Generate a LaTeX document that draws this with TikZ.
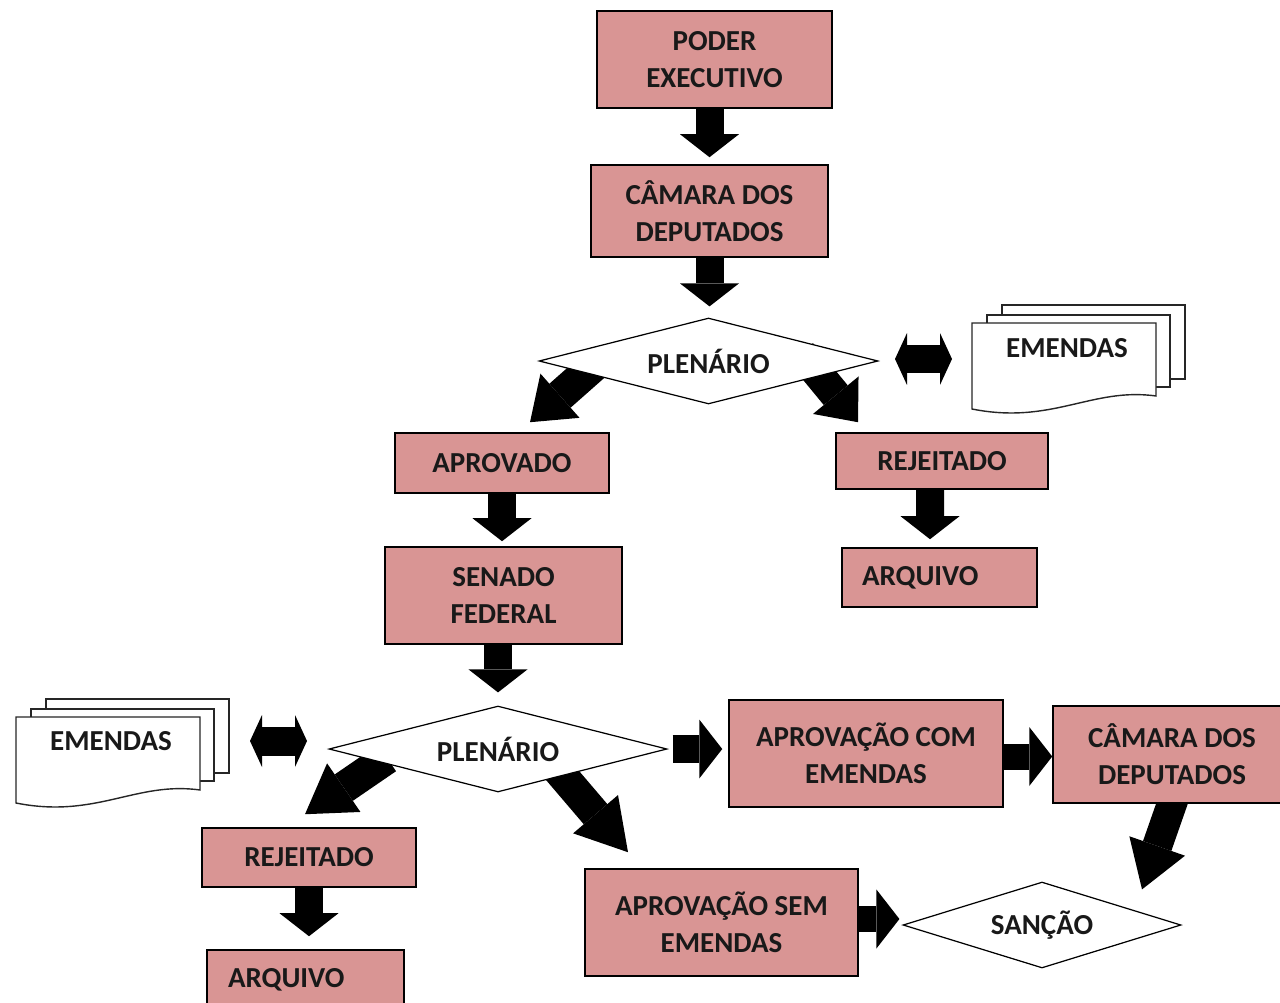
\documentclass[tikz,border=0pt]{standalone}
\usepackage{fontspec}
\setmainfont{Carlito}
\usetikzlibrary{shapes.geometric,arrows.meta,backgrounds}
\definecolor{boxred}{RGB}{217,149,148}
\tikzset{
  txt/.style={font=\bfseries\fontsize{16.5}{21}\selectfont, text=black!90},
  box/.style 2 args={draw, line width=0.9pt, fill=boxred, align=center, inner sep=0pt, minimum width=#1, minimum height=#2, txt},
  decision/.style 2 args={diamond, draw, line width=0.7pt, fill=white, aspect=3.9, inner sep=0pt, minimum width=#1, minimum height=#2, txt},
  blk/.style={line width=0.56cm, -{Triangle[length=#1, width=1.18cm, line width=0pt]}},
  blk/.default=0.46cm,
  swap/.style={line width=0.58cm, {Triangle[length=0.24cm, width=1.04cm, line width=0pt]}-{Triangle[length=0.24cm, width=1.04cm, line width=0pt]}},
  page/.style={draw=black!85, line width=0.8pt, fill=white},
  pages/.pic={
    \draw[page] (30,-18) rectangle (213,56);
    \draw[page] (15,-8) rectangle (198,64);
    \draw[page] (0,0) -- (184,0) -- (184,73) .. controls (120,64) and (80,102) .. (0,86) -- cycle;
  }
}
\begin{document}
\begin{tikzpicture}[x=0.02cm, y=-0.02cm]
\useasboundingbox (0,0) rectangle (1280,1003);
\node[box={4.7cm}{1.94cm}] (poder) at (714.5,59.5) {PODER\\EXECUTIVO};
\node[box={4.74cm}{1.84cm}] (cam1) at (709.5,211) {CÂMARA DOS\\DEPUTADOS};
\node[decision={6.78cm}{1.72cm}] (plen1) at (708.5,361) {PLENÁRIO};
\node[box={4.28cm}{1.2cm}] (aprov) at (502,463) {APROVADO};
\node[box={4.24cm}{1.12cm}] (rej1) at (942,461) {REJEITADO};
\node[box={3.9cm}{1.18cm}, text width=3.1cm, align=left] (arq1) at (939.5,577.5) {ARQUIVO};
\node[box={4.74cm}{1.94cm}] (senado) at (503.5,595.5) {SENADO\\FEDERAL};
\node[decision={6.76cm}{1.72cm}] (plen2) at (498,749) {PLENÁRIO};
\node[box={5.48cm}{2.14cm}] (comem) at (866,753.5) {APROVAÇÃO COM\\EMENDAS};
\node[box={4.76cm}{1.94cm}] (cam2) at (1172,754.5) {CÂMARA DOS\\DEPUTADOS};
\node[box={4.28cm}{1.18cm}] (rej2) at (309,857.5) {REJEITADO};
\node[box={3.94cm}{1.18cm}, text width=3.1cm, align=left] (arq2) at (305.5,979.5) {ARQUIVO};
\node[box={5.46cm}{2.14cm}] (semem) at (721.5,922.5) {APROVAÇÃO SEM\\EMENDAS};
\node[decision={5.56cm}{1.72cm}] (sancao) at (1042,925) {SANÇÃO};
\pic at (972,323) {pages};
\node[txt] (emd1) at (1067,348) {EMENDAS};
\pic at (16,717) {pages};
\node[txt] (emd2) at (111,741) {EMENDAS};
\coordinate (sw1l) at (895,359);
\coordinate (sw1r) at (952,359);
\coordinate (sw2l) at (250,741);
\coordinate (sw2r) at (307,741);
\draw[swap] (sw1l) -- (sw1r);
\draw[swap] (sw2l) -- (sw2r);
\begin{scope}[on background layer]
\draw[blk, shorten >=0.14cm] (poder.south -| cam1.north) -- (cam1.north);
\draw[blk, shorten >=0.22cm] (cam1.south) -- (cam1.south |- plen1.north);
\draw[blk=0.8cm, line width=0.64cm] ([shift={(-111.5,2)}]plen1.center) -- ([shift={(28,-10)}]aprov.north);
\draw[blk=0.7cm, line width=0.62cm] ([shift={(92.5,-8)}]plen1.center) -- ([shift={(-84,-10)}]rej1.north);
\draw[blk, shorten >=0.16cm] ([xshift=-0.24cm]rej1.south) -- ([xshift=-0.19cm]arq1.north);
\draw[blk, shorten >=0.1cm] (aprov.south) -- (aprov.south |- senado.north);
\draw[blk, shorten >=0.26cm] (senado.south -| plen2.north) -- (plen2.north);
\draw[blk=0.94cm, line width=0.64cm] ([shift={(-111,9)}]plen2.center) -- ([shift={(-4,-13)}]rej2.north);
\draw[blk=1cm, line width=0.62cm] ([shift={(59,20)}]plen2.center) -- ([shift={(-93.5,-16)}]semem.north);
\draw[blk, shorten <=0.1cm, shorten >=0.12cm] (plen2.east) -- (plen2.east -| comem.west);
\draw[blk, line width=0.52cm] ([yshift=-0.06cm]comem.east) -- ([yshift=-0.06cm]comem.east -| cam2.west);
\draw[blk=0.92cm, line width=0.6cm] ([shift={(2,-6)}]cam2.south) -- ([shift={(100,8)}]sancao.north);
\draw[blk, line width=0.52cm] ([shift={(-6,-3.5)}]semem.east) -- ([shift={(-3,-6)}]sancao.west);
\draw[blk, shorten >=0.26cm] (rej2.south) -- (rej2.south |- arq2.north);
\end{scope}
\end{tikzpicture}
\end{document}
